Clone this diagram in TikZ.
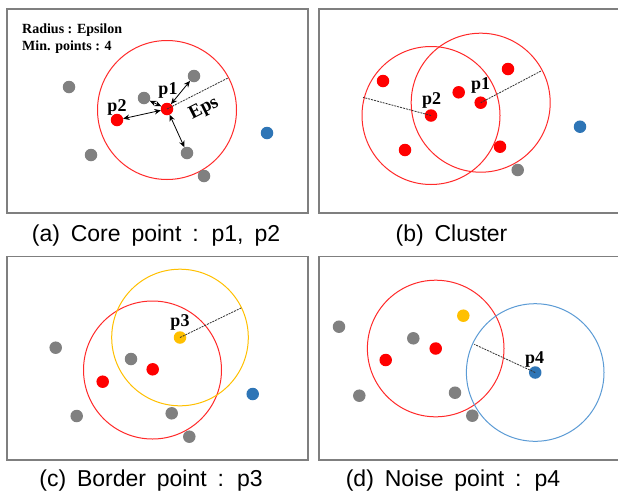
\documentclass[tikz,border=0pt]{standalone}
\usepackage{fontspec}
\setmainfont{Liberation Serif}
\newfontfamily\capfont[WordSpace=1.7]{Liberation Sans}
\usetikzlibrary{arrows.meta}
\definecolor{dotred}{HTML}{FF0000}
\definecolor{dotgray}{HTML}{808080}
\definecolor{dotblue}{HTML}{2E75B6}
\definecolor{dotyellow}{HTML}{FFC000}
\definecolor{ringred}{HTML}{FF2A2A}
\definecolor{ringblue}{HTML}{5B9BD5}
\definecolor{ringyellow}{HTML}{FFC000}
\definecolor{framegray}{HTML}{7F7F7F}
\begin{document}
\begin{tikzpicture}[x=1pt,y=-1pt,
  dot/.style={circle,inner sep=0pt,outer sep=0pt,minimum size=12.5pt,draw=none},
  gdot/.style={dot,fill=dotgray},
  rdot/.style={dot,fill=dotred},
  bdot/.style={dot,fill=dotblue},
  ydot/.style={dot,fill=dotyellow},
  panel/.style={draw=framegray,line width=1.1pt},
  ring/.style={line width=1pt},
  radiusline/.style={dash pattern=on 2pt off 1pt,line width=0.8pt,draw=black!80},
  lbl/.style={font=\bfseries\fontsize{18}{18}\selectfont,inner sep=0pt},
  info/.style={font=\bfseries\fontsize{14}{14}\selectfont,inner sep=0pt,anchor=base west},
  captext/.style={font=\capfont\fontsize{23}{23}\selectfont,inner sep=0pt,anchor=base},
  dbl/.style={{Stealth[length=6.5pt,width=5.5pt]}-{Stealth[length=6.5pt,width=5.5pt]},line width=0.8pt}
]
\fill[white] (0,0) rectangle (618,496);
\useasboundingbox (0,0) rectangle (618,496);

% ---------- panel (a)
\draw[panel] (7,9) rectangle (308,213);
\node[info] (ta1) at (22,33) {Radius : Epsilon};
\node[info] (ta2) at (22,50) {Min. points : 4};
\coordinate (ac) at (167,110);
\draw[ring,draw=ringred] (ac) circle[radius=69.5pt];
\node[gdot] (a1) at (69,87) {};
\node[gdot] (a2) at (194,76) {};
\node[gdot] (a3) at (144,98) {};
\node[rdot] (ap1) at (167,109) {};
\node[rdot] (ap2) at (117,120) {};
\node[gdot] (a5) at (187,153) {};
\node[gdot] (a6) at (91,155) {};
\node[gdot] (a7) at (204,176) {};
\node[bdot] (a8) at (267,133) {};
\coordinate (ae) at (228.5,77.7);
\draw[radiusline] (ap1.center) -- (ae);
\draw[dbl] (ap1) -- (a2);
\draw[dbl] (ap1) -- (a3);
\draw[dbl] (ap1) -- (ap2);
\draw[dbl] (ap1) -- (a5);
\node[lbl] (lp1) at (168,90) {p1};
\node[lbl] (lp2) at (117,107.5) {p2};
\node[lbl,rotate=27,font=\bfseries\fontsize{19}{19}\selectfont] (leps) at (204,109) {Eps};
\node[captext] (capa) at (156,241.5) {(a) Core point : p1, p2};

% ---------- panel (b)
\draw[panel] (319,9) rectangle (620,213);
\node[rdot] (bp2) at (431,115.5) {};
\node[rdot] (bp1) at (480.7,102.7) {};
\draw[ring,draw=ringred] (bp2.center) circle[radius=69pt];
\draw[ring,draw=ringred] (bp1.center) circle[radius=69.5pt];
\node[rdot] (b1) at (383,81) {};
\node[rdot] (b2) at (458.7,92.3) {};
\node[rdot] (b3) at (508,69) {};
\node[rdot] (b4) at (405,150) {};
\node[rdot] (b5) at (500,146.7) {};
\node[gdot] (b6) at (517.7,170) {};
\node[bdot] (b7) at (580,126.7) {};
\coordinate (be2) at (363,97.3);
\coordinate (be1) at (541,71);
\draw[radiusline] (bp2.center) -- (be2);
\draw[radiusline] (bp1.center) -- (be1);
\node[lbl] (lbp2) at (431.7,100) {p2};
\node[lbl] (lbp1) at (480.5,85) {p1};
\node[captext] (capb) at (451.5,241.5) {(b) Cluster};

% ---------- panel (c)
\draw[panel] (7,256.7) rectangle (308,460);
\coordinate (cc) at (152.5,370);
\draw[ring,draw=ringred] (cc) circle[radius=69pt];
\node[ydot] (cp3) at (180,337.5) {};
\draw[ring,draw=ringyellow] (cp3.center) circle[radius=68.3pt];
\node[gdot] (c1) at (55.7,347.7) {};
\node[gdot] (c2) at (131,359) {};
\node[rdot] (c3) at (152.7,369.3) {};
\node[rdot] (c4) at (102.7,381.7) {};
\node[gdot] (c5) at (76.7,416) {};
\node[gdot] (c6) at (171.7,413.3) {};
\node[gdot] (c7) at (189.3,436.7) {};
\node[bdot] (c8) at (252.7,394) {};
\coordinate (ce) at (241.7,307.7);
\draw[radiusline] (cp3.center) -- (ce);
\node[lbl] (lp3) at (180,322.5) {p3};
\node[captext] (capc) at (151,486) {(c) Border point : p3};

% ---------- panel (d)
\draw[panel] (319,256.7) rectangle (620,460);
\node[rdot] (d0) at (435.7,348.5) {};
\draw[ring,draw=ringred] (d0.center) circle[radius=68.3pt];
\node[bdot] (dp4) at (535.2,372.5) {};
\draw[ring,draw=ringblue] (dp4.center) circle[radius=68.8pt];
\node[gdot] (d1) at (339,326.7) {};
\node[gdot] (d2) at (413.3,338.3) {};
\node[ydot] (d3) at (463.3,315.7) {};
\node[rdot] (d4) at (385.7,360) {};
\node[gdot] (d5) at (359.3,395.7) {};
\node[gdot] (d6) at (455,392.7) {};
\node[gdot] (d7) at (472.3,415.7) {};
\coordinate (de) at (474.3,344.3);
\draw[radiusline] (dp4.center) -- (de);
\node[lbl] (lp4) at (534.5,359) {p4};
\node[captext] (capd) at (453,486) {(d) Noise point : p4};
\end{tikzpicture}
\end{document}
